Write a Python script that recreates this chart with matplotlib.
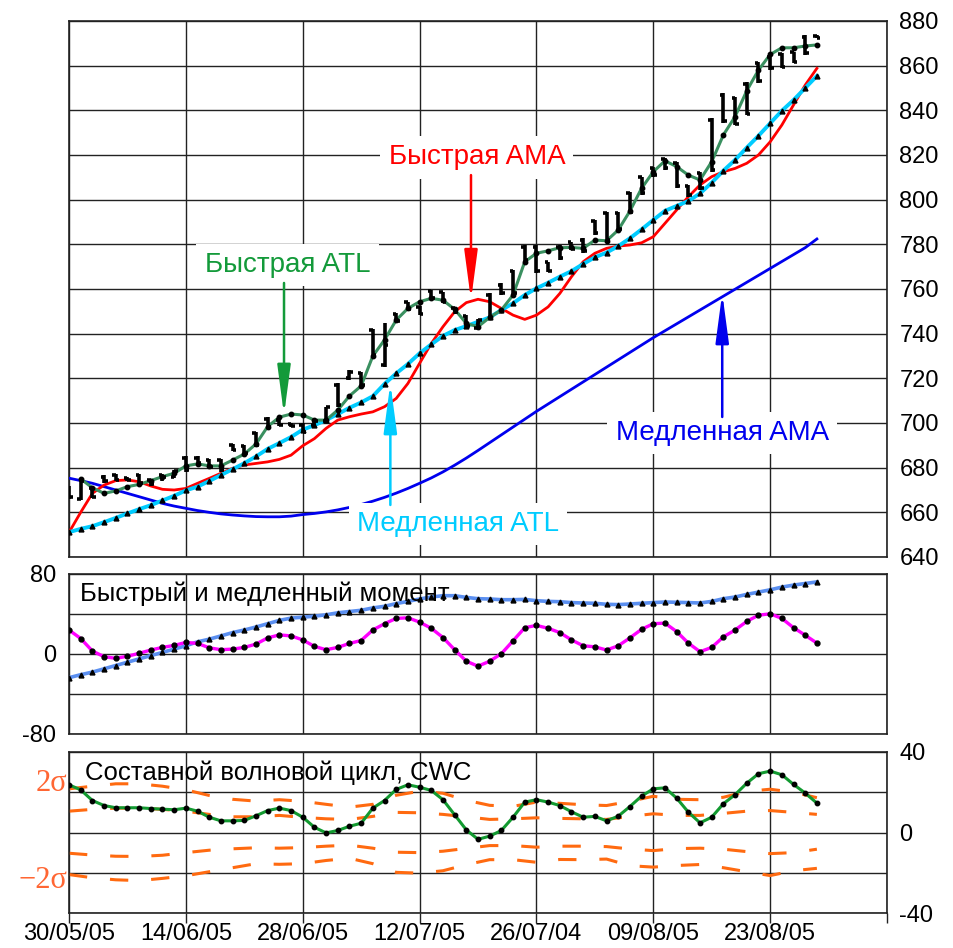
import numpy as np
import matplotlib
matplotlib.use("Agg")
import matplotlib.pyplot as plt

plt.rcParams['font.family'] = ['Liberation Sans', 'DejaVu Sans']

# ---------------- data ----------------
date_labels = ["30/05/05", "14/06/05", "28/06/05", "12/07/05", "26/07/04", "09/08/05", "23/08/05"]

bar_high = [672, 674.5, 671.5, 676.7, 677, 676, 677, 675, 677, 679,
            685, 685, 684, 684, 690.4, 690, 696, 702.5, 702, 700,
            699.8, 701.3, 707.3, 717.8, 723.7, 723, 742, 744.6, 749.4, 754.3,
            752.4, 759.5, 758.8, 752, 748.3, 746.4, 758, 762.5, 768.5, 779.7,
            779.7, 772.2, 779.7, 781.2, 782.7, 790.9, 794.6, 794.6, 803.6, 810.3,
            814.8, 818.5, 817, 806.6, 812.5, 836.4, 847.6, 846.1, 852.8, 861.8,
            864.8, 865.5, 866.3, 873.7, 873.7]
bar_low = [666, 665.5, 666.3, 673, 674, 674, 672, 672, 674, 675.5,
           678, 681, 680, 678, 687.6, 686, 689.4, 697.6, 698.5, 698,
           695.4, 698.3, 700.6, 707.3, 719.2, 716.3, 729.7, 725.2, 745, 750.6,
           748.3, 755, 753.6, 749, 743.1, 742, 746.1, 757.3, 757.3, 772.2,
           767, 767.7, 773, 777.5, 776, 784.2, 781.2, 786.4, 793.9, 802.1,
           810.3, 813.3, 805.1, 801.3, 804.3, 812.5, 834.2, 833.4, 837.9, 852.1,
           858.1, 858.8, 861, 864.8, 872.3]
bar_open = [671, 666, 671, 676, 676.5, 675.5, 676.5, 674.5, 676.5, 676,
            684.5, 684.5, 683.5, 683.5, 690, 689.5, 695.5, 702, 701.5, 699.5,
            699, 699, 701, 717, 720, 722.5, 741.5, 726, 749, 754,
            752, 759, 758.5, 751.5, 748, 742.5, 757.5, 762, 768, 779,
            779, 772, 779, 781, 782, 790.5, 794, 794, 803, 810,
            814, 818, 816.5, 806, 812, 835.5, 847, 845.5, 852, 861,
            864, 865, 866, 873, 873.5]
bar_close = [667, 674, 667, 674, 674.5, 674.5, 673, 672.5, 676, 678.5,
             679, 682, 680.5, 679, 688, 686.5, 690, 698, 699, 698.5,
             696, 701, 707, 708, 723, 717, 730.5, 735, 745.5, 751,
             749, 756, 754, 749.5, 743.5, 746, 747, 758, 758, 773,
             768, 768, 774, 778, 777, 785, 782, 787, 794.5, 803,
             811, 814, 806, 802, 805, 813.5, 835, 834, 838.5, 853,
             859, 859.5, 861.5, 865.5, 872.5]

fast_atl = [np.nan, 675, 671, 668.5, 669.6, 671.5, 672.5, 674.2, 676, 677.5,
            680.8, 681.7, 680.8, 680.8, 683.4, 686.1, 690.6, 698.4, 702.6, 704,
            703.6, 701.3, 701.3, 705.8, 712.1, 716.6, 730, 737.2, 746.1, 751.3,
            754.3, 755.8, 755, 750.9, 744.6, 743.1, 747.3, 750.6, 757.3, 772.2,
            776, 777.1, 778.5, 778.6, 778.2, 781.9, 781.6, 786.4, 794.9, 805.1,
            812.5, 817.4, 814.8, 811, 808.8, 817, 829, 837.2, 848.8, 858,
            865, 868, 868, 868.8, 869.3]
slow_atl = [651.1, 652.6, 653.8, 655.6, 657.5, 659.5, 661.4, 663.2, 665.3, 667.4,
            669.8, 671.5, 674, 676.7, 679.3, 682, 685, 688.4, 691, 693.7,
            697, 699, 701.3, 704, 706.8, 709.2, 712, 717.5, 722.2, 726.4,
            731.2, 735.2, 739, 741.6, 743.4, 745.3, 747.3, 750.6, 753.6, 757.3,
            760.3, 762.8, 765.5, 768, 771.2, 774.2, 776.3, 779.2, 782.7, 786.7,
            790.9, 795, 797.2, 799.4, 802.8, 807.6, 813, 817.8, 823.3, 828.6,
            834.2, 839.8, 844.6, 850, 855.4]
fast_ama = [651, 660, 668.5, 672.2, 674.2, 674.5, 673.7, 671.8, 670.3, 670,
            670.7, 673, 675.2, 677.5, 679.7, 681.2, 681.9, 682.6, 683.7, 685.6,
            689.8, 693, 697.6, 701.3, 702.8, 704, 705, 707.3, 711, 717.7,
            726.7, 735.6, 743.1, 749.8, 753.9, 755.4, 754.3, 751.3, 748.3, 746.4,
            748.3, 752, 758, 765.5, 772.2, 776, 778.2, 779.2, 779.7, 780.7,
            783.4, 789.4, 795.4, 801.3, 806.6, 810.3, 812.5, 814, 816.3, 820,
            825.9, 833.4, 842.4, 851.3, 858.8]
slow_ama = [675.3, 674.2, 673, 671.5, 670, 668.5, 667, 665.5, 664, 662.8,
            661.8, 660.8, 660, 659.3, 658.8, 658.4, 658.1, 658, 658, 658.3,
            659, 659.5, 660.2, 661.1, 662.2, 663.5, 665, 666.7, 668.6, 670.7,
            673, 675.4, 678.1, 681.1, 684.3, 687.7, 691.2, 694.7, 698.2, 701.7,
            705.2, 708.5, 711.8, 715.1, 718.4, 721.7, 725, 728.3, 731.6, 734.9,
            738.2, 741.3, 744.4, 747.5, 750.6, 753.7, 756.8, 759.9, 763, 766.1,
            769.2, 772.3, 775.4, 778.5, 782.4]

fast_mom = [24, 15.5, 3, -2.7, -4.3, -2.3, 0.7, 4, 6.6, 8.6,
            11.6, 10.6, 6.2, 4.3, 4.9, 6.6, 9.9, 16.1, 19.1, 18.1,
            14.1, 7.6, 4.3, 6.6, 10.6, 13.5, 24, 30.3, 35.6, 36.2,
            31.9, 25.7, 16.5, 4.3, -7.2, -12.2, -7.2, 0.3, 13.2, 26.3,
            28.6, 25.7, 21.4, 14.1, 8.2, 7.2, 4, 8.2, 16.1, 24.7,
            30.3, 30.9, 22.4, 10.9, 2.3, 6.6, 17.1, 24, 32.6, 38.8,
            40.2, 35.6, 26.3, 18.8, 10.9]
slow_mom = [-23.7, -20.7, -18.1, -14.8, -11.5, -8.2, -4.9, -1.6, 1.6, 4.9,
            8.2, 12.2, 14.8, 18.1, 21.4, 24, 27, 30.3, 33.6, 35.9,
            36.8, 37.8, 39.2, 41.2, 42.5, 43.7, 46.1, 47.7, 50.4, 52.6,
            55, 57, 58.3, 58.3, 56.6, 55.3, 55, 54.3, 54.3, 54.6,
            53.3, 52.6, 52.3, 51.4, 51, 50.7, 49.7, 49.4, 50, 50.7,
            51.4, 52, 51.7, 51.4, 51, 52.6, 55.3, 57, 59.6, 61.9,
            64.2, 66.9, 68.9, 70.5, 72.1]

cwc = [23.7, 21.2, 15.9, 13.4, 12.3, 12.3, 12.3, 11.9, 11.6, 11.3,
       12.1, 10.6, 7.6, 5.8, 5.8, 6, 8.3, 10.9, 12.1, 10.9,
       7.6, 2.6, -0.2, 1, 3.1, 4.6, 12.1, 15.9, 21.4, 23.7,
       22.5, 20.9, 16.3, 8.8, 1.3, -3.4, -1.8, 1, 7.6, 15.1,
       16.3, 15.1, 13.4, 10.3, 7.6, 8, 5.8, 8.1, 12.9, 18.1,
       21.7, 22.2, 17.1, 10.1, 4.8, 7.6, 14.3, 18.8, 24.5, 29.2,
       30.5, 28.7, 23.9, 19.6, 14.6]

band_x = list(range(0, 65, 2))
band_up2 = [21.7, 23, 24.2, 24.2, 23, 21.2, 18.4, 16.5, 15.6, 16.3,
            15.5, 14, 12.6, 14, 18.5, 20.5, 19.5, 16, 13.5, 13,
            15.1, 14.5, 13.8, 13.4, 15.5, 18, 16.5, 16.3, 17.5, 20.4,
            21.5, 20, 17.3]
band_up1 = [10.6, 11.5, 12.1, 12.1, 11.5, 10.6, 9, 7.8, 7.8, 8.5,
            7.5, 6.8, 6.5, 8, 10, 9.8, 9, 7.8, 6.5, 6.8,
            7.3, 7, 6.8, 6.5, 8, 9.3, 8.5, 8.5, 9.5, 10.6,
            10.9, 10, 9]
band_lo1 = [-10.3, -11.2, -11.8, -11.9, -11.3, -10, -8.8, -8.1, -7.6, -7.8,
            -7.5, -6.8, -6.3, -7.8, -9.8, -10, -9.3, -7.9, -6.5, -6.5,
            -7.3, -6.8, -6.8, -7, -8.2, -9, -8, -7.8, -8.3, -9.5,
            -10.5, -10, -8.3]
band_lo2 = [-20.9, -22.5, -23.5, -23.9, -22.8, -21.5, -19.5, -17.5, -15.5, -15.8,
            -15.5, -13.9, -12.8, -15.5, -19.8, -20.2, -19, -16, -13.5, -13.5,
            -14.8, -13.4, -13.5, -13.2, -16.5, -17.2, -16.4, -15.9, -17.5, -19.5,
            -21.4, -19, -17.8]

# ---------------- figure ----------------
W, H = 954, 948
fig = plt.figure(figsize=(W / 100, H / 100), dpi=100)
L, R = 69, 887
ax1 = fig.add_axes([L / W, 1 - 557 / H, (R - L) / W, 536 / H])
ax2 = fig.add_axes([L / W, 1 - 734 / H, (R - L) / W, 160 / H])
ax3 = fig.add_axes([L / W, 1 - 913 / H, (R - L) / W, 161 / H])

GRID = '#222222'
TFS = 17      # tick labels
PFS = 18.5    # panel titles
LFS = 20      # annotation labels

for ax in (ax1, ax2, ax3):
    ax.set_xlim(0, 70)
    ax.set_xticks(range(0, 71, 10))
    ax.grid(True, color=GRID, lw=1.0, zorder=0)
    ax.set_axisbelow(True)
    for s in ax.spines.values():
        s.set_color('#222222')
        s.set_linewidth(1.2)

x = np.arange(len(bar_high))

# ---- top panel ----
ax1.set_ylim(640, 880)
ax1.set_yticks(range(640, 881, 20))
ax1.yaxis.tick_right()
ax1.tick_params(axis='y', length=0, pad=9, labelsize=TFS)
ax1.tick_params(axis='x', length=0, labelbottom=False)

ax1.plot(x, slow_ama, color='#0000EE', lw=2.0, zorder=3)
ax1.plot(x, fast_ama, color='#FF0000', lw=2.0, zorder=3)
ax1.plot(x, slow_atl, color='#00CCFF', lw=2.8, zorder=3,
         marker='^', markersize=3.5, markerfacecolor='black', markeredgecolor='black')
ax1.plot(x, fast_atl, color='#3A9060', lw=2.2, zorder=4,
         marker='o', markersize=3.2, markerfacecolor='black', markeredgecolor='black')
tw = 0.3
ax1.vlines(x, bar_low, bar_high, color='black', lw=2.6, zorder=5)
ax1.hlines(bar_open, x - tw, x, color='black', lw=2.6, zorder=5)
ax1.hlines(bar_close, x, x + tw, color='black', lw=2.6, zorder=5)

box = dict(boxstyle='square,pad=0.3', fc='white', ec='none')
ax1.text(34.9, 819, 'Быстрая AMA', color='#FF0000', fontsize=LFS,
         ha='center', va='center', bbox=box, zorder=6)
ax1.text(18.7, 770.7, 'Быстрая ATL', color='#139A3A', fontsize=LFS,
         ha='center', va='center', bbox=box, zorder=6)
ax1.text(33.3, 654.8, 'Медленная ATL', color='#00CCFF', fontsize=LFS,
         ha='center', va='center', bbox=box, zorder=6)
ax1.text(55.9, 695.5, 'Медленная AMA', color='#0000EE', fontsize=LFS,
         ha='center', va='center', bbox=box, zorder=6)

def arrow(x0, y0, y1, c):
    ax1.annotate('', xy=(x0, y1), xytext=(x0, y0),
                 arrowprops=dict(arrowstyle='-|>,head_length=3.0,head_width=0.4',
                                 color=c, lw=1.8, shrinkA=0, shrinkB=0),
                 zorder=7)

arrow(34.4, 811, 755, '#FF0000')
arrow(18.4, 762.7, 703.6, '#139A3A')
arrow(27.5, 663.3, 717.9, '#00CCFF')
arrow(55.9, 702.7, 758.2, '#0000EE')

# ---- momentum panel ----
ax2.set_ylim(-80, 80)
ax2.set_yticks([-80, -40, 0, 40, 80])
ax2.set_yticklabels(['-80', '', '0', '', '80'])
ax2.tick_params(axis='y', length=0, pad=9, labelsize=TFS)
ax2.tick_params(axis='x', length=0, labelbottom=False)
ax2.plot(x, slow_mom, color='#5B8FF0', lw=2.6, zorder=3,
         marker='^', markersize=3.5, markerfacecolor='black', markeredgecolor='black')
ax2.plot(x, fast_mom, color='#FF00FF', lw=2.4, zorder=3,
         marker='o', markersize=3.5, markerfacecolor='black', markeredgecolor='black')
ax2.text(0.014, 0.95, 'Быстрый и медленный момент', transform=ax2.transAxes,
         fontsize=PFS, ha='left', va='top', zorder=6)

# ---- CWC panel ----
ax3.set_ylim(-40, 40)
ax3.set_yticks([-40, -20, 0, 20, 40])
ax3.set_yticklabels(['-40', '', '0', '', '40'])
ax3.yaxis.tick_right()
ax3.tick_params(axis='y', length=0, pad=9, labelsize=TFS)
ax3.tick_params(axis='x', length=7, width=1.0, color='#222222', pad=0.5, labelsize=TFS)
ax3.set_xticklabels(date_labels + [''])
for b in (band_up2, band_up1, band_lo1, band_lo2):
    ax3.plot(band_x, b, color='#FF6A10', lw=2.2, dashes=(6, 7.5), zorder=2)
ax3.plot(x, cwc, color='#129A30', lw=2.2, zorder=3,
         marker='o', markersize=3.2, markerfacecolor='black', markeredgecolor='black')
ax3.text(0.02, 0.95, 'Составной волновой цикл, CWC', transform=ax3.transAxes,
         fontsize=PFS, ha='left', va='top', zorder=6)
ax3.text(-0.002, 24.4, '2σ', color='#FF6633', fontsize=22, family='Liberation Serif',
         ha='right', va='center', transform=ax3.get_yaxis_transform(), clip_on=False)
ax3.text(-0.002, -23.9, '\u22122σ', color='#FF6633', fontsize=22, family='Liberation Serif',
         ha='right', va='center', transform=ax3.get_yaxis_transform(), clip_on=False)

fig.savefig('out.png', dpi=100)
